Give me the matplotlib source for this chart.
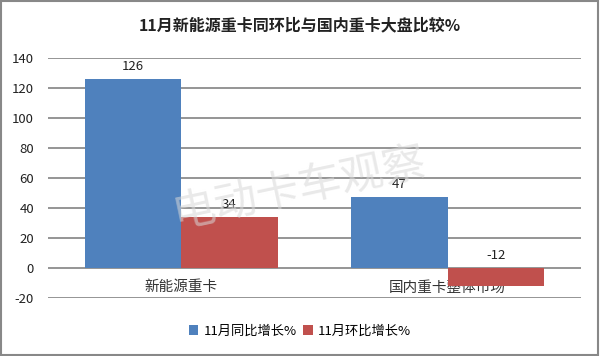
import matplotlib.pyplot as plt
import numpy as np

plt.rcParams['font.family'] = ['Noto Sans CJK SC', 'DejaVu Sans']

categories = ['新能源重卡', '国内重卡整体市场']
yoy = [126, 47]
mom = [34, -12]
series_names = ['11月同比增长%', '11月环比增长%']
yticks = [-20, 0, 20, 40, 60, 80, 100, 120, 140]

blue = '#4f81bd'
red = '#c0504d'
grid_c = '#8c8c8c'

fig = plt.figure(figsize=(6, 3.56), dpi=100)
ax = fig.add_axes([0.08, 0.163, 0.888, 0.674])

x = np.arange(len(categories))
w = 0.362
b1 = ax.bar(x - w / 2, yoy, w, color=blue, label=series_names[0], zorder=3)
b2 = ax.bar(x + w / 2, mom, w, color=red, label=series_names[1], zorder=3)

for bars, vals in [(b1, yoy), (b2, mom)]:
    for r, v in zip(bars, vals):
        ax.text(r.get_x() + r.get_width() / 2, max(v, 0) + 4, str(v),
                ha='center', va='bottom', fontsize=9.5, color='#222222', zorder=4)

ax.set_xlim(-0.5, 1.5)
ax.set_ylim(-20, 140)
ax.set_yticks(yticks)
ax.set_yticklabels([str(t) for t in yticks], fontsize=9.5, color='#222222')
ax.tick_params(axis='y', length=0, pad=10)
ax.set_xticks([])
for s in ax.spines.values():
    s.set_visible(False)
for t in yticks:
    ax.axhline(t, color=grid_c, lw=1.3, zorder=1)

for xi, c in zip(x, categories):
    ax.text(xi, -13, c, ha='center', va='center', fontsize=10.5, color='#333333', zorder=2)

# watermark
fig.text(0.5, 0.47, '电动卡车观察', fontsize=31, color='#d8d8d8', alpha=0.55,
         rotation=12, ha='center', va='center', zorder=0)

fig.text(0.5, 0.93, '11月新能源重卡同环比与国内重卡大盘比较%', ha='center', va='center',
         fontsize=11.5, fontweight='bold', color='#222222')

leg = fig.legend(loc='center', bbox_to_anchor=(0.5, 0.07), ncol=2, frameon=False,
                 fontsize=9.5, handlelength=0.7, handleheight=0.7, handletextpad=0.4,
                 columnspacing=0.5)

border = plt.Rectangle((0.002, 0.003), 0.995, 0.993, transform=fig.transFigure,
                       fill=False, edgecolor='#888888', lw=1.5)
fig.patches.append(border)

fig.savefig('out.png', dpi=100)
